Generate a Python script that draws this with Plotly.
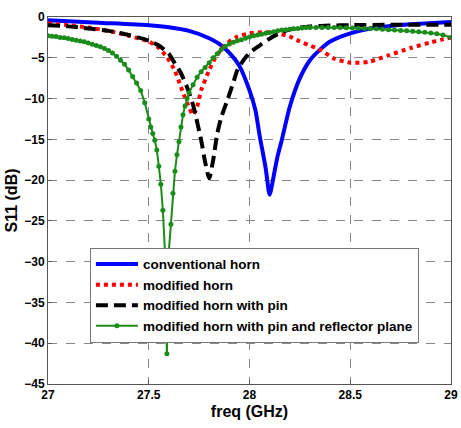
import plotly.graph_objects as go

# conventional horn
blue_f = [27.0, 27.25, 27.5, 27.6, 27.7, 27.8, 27.85, 27.9, 27.95, 28.0, 28.03, 28.05, 28.08, 28.1,
          28.12, 28.14, 28.16, 28.2, 28.25, 28.3, 28.35, 28.4, 28.5, 28.6, 28.7, 28.8, 29.0]
blue_s = [-0.4, -0.7, -1.0, -1.25, -1.7, -2.6, -3.3, -4.4, -6.0, -9.0, -11.5, -14.5, -18.5, -21.8,
          -19.5, -17.0, -15.1, -11.0, -7.5, -5.3, -4.0, -3.0, -2.0, -1.4, -1.1, -0.9, -0.6]

# modified horn
red_f = [27.0, 27.1, 27.2, 27.3, 27.4, 27.5, 27.55, 27.59, 27.63, 27.66, 27.69, 27.72, 27.74, 27.76,
         27.8, 27.83, 27.86, 27.9, 27.94, 28.0, 28.07, 28.14, 28.2, 28.25, 28.29, 28.35, 28.42, 28.5,
         28.59, 28.69, 28.8, 28.9, 28.95, 29.0]
red_s = [-0.8, -1.0, -1.3, -1.7, -2.3, -3.0, -3.8, -4.9, -6.6, -8.6, -10.5, -12.0, -11.0, -9.0,
         -6.5, -5.0, -4.0, -3.0, -2.4, -2.0, -1.85, -2.0, -2.4, -3.0, -3.4, -4.0, -5.1, -5.6,
         -5.5, -4.7, -3.8, -3.1, -2.8, -2.5]

# modified horn with pin
black_f = [27.0, 27.1, 27.2, 27.3, 27.4, 27.5, 27.55, 27.6, 27.62, 27.66, 27.69, 27.72, 27.76, 27.78,
           27.8, 27.82, 27.84, 27.86, 27.89, 27.92, 27.94, 27.97, 28.0, 28.05, 28.09, 28.14, 28.19,
           28.25, 28.3, 28.4, 28.5, 28.7, 29.0]
black_s = [-1.0, -1.15, -1.4, -1.7, -2.2, -2.9, -3.5, -4.5, -5.3, -6.9, -8.6, -10.8, -15.1, -17.8,
           -19.8, -17.5, -14.3, -12.3, -10.2, -8.0, -6.5, -5.3, -4.4, -3.5, -2.8, -2.1, -1.6,
           -1.3, -1.15, -1.05, -1.0, -0.95, -0.95]

# modified horn with pin and reflector plane
green_f = [27.0, 27.02, 27.04, 27.06, 27.08, 27.1, 27.12, 27.14, 27.16, 27.18, 27.2, 27.22, 27.24,
           27.26, 27.28, 27.3, 27.32, 27.34, 27.36, 27.38, 27.4, 27.42, 27.44, 27.46, 27.48, 27.5,
           27.51, 27.52, 27.53, 27.54, 27.55, 27.56, 27.57, 27.58, 27.59, 27.6, 27.61, 27.62, 27.63,
           27.64, 27.65, 27.66, 27.67, 27.68, 27.69, 27.7, 27.72, 27.74, 27.76, 27.78, 27.8, 27.82,
           27.84, 27.86, 27.88, 27.9, 27.92, 27.94, 27.96, 27.98, 28.0, 28.02, 28.04, 28.06, 28.08,
           28.1, 28.12, 28.14, 28.16, 28.18, 28.2, 28.22, 28.24, 28.26, 28.28, 28.3, 28.33, 28.36,
           28.39, 28.42, 28.45, 28.48, 28.51, 28.54, 28.57, 28.6, 28.63, 28.66, 28.69, 28.72, 28.75,
           28.78, 28.81, 28.84, 28.87, 28.9, 28.93, 28.96, 29.0]
green_s = [-2.3, -2.35, -2.4, -2.5, -2.55, -2.65, -2.75, -2.85, -2.95, -3.05, -3.2, -3.35, -3.5,
           -3.65, -3.85, -4.1, -4.4, -4.8, -5.3, -5.8, -6.5, -7.3, -8.1, -9.0, -10.5, -12.5,
           -13.5, -14.3, -15.1, -16.3, -18.3, -20.5, -23.7, -28.6, -41.3, -28.6, -25.4, -21.6, -18.9,
           -16.9, -15.3, -13.5, -12.0, -10.9, -10.0, -9.3, -8.3, -7.4, -6.7, -6.2, -5.6, -5.0,
           -4.5, -4.0, -3.6, -3.3, -3.1, -2.9, -2.8, -2.6, -2.45, -2.3, -2.2, -2.1, -2.0,
           -1.9, -1.8, -1.7, -1.6, -1.55, -1.5, -1.45, -1.4, -1.35, -1.3, -1.3, -1.3, -1.3,
           -1.3, -1.3, -1.3, -1.32, -1.35, -1.38, -1.4, -1.42, -1.45, -1.5, -1.55, -1.6, -1.65,
           -1.7, -1.75, -1.8, -1.87, -1.95, -2.05, -2.2, -2.5]

x_ticks = [27, 27.5, 28, 28.5, 29]
x_tick_labels = ["27", "27.5", "28", "28.5", "29"]
y_ticks = [0, -5, -10, -15, -20, -25, -30, -35, -40, -45]

FONT = "Liberation Sans, Arial, sans-serif"

fig = go.Figure()
fig.add_trace(go.Scatter(x=blue_f, y=blue_s, mode="lines", name="conventional horn",
                         line=dict(color="#0000ff", width=4, shape="spline", smoothing=0.6)))
fig.add_trace(go.Scatter(x=red_f, y=red_s, mode="lines", name="modified horn",
                         line=dict(color="#ff0000", width=4, dash="4px,4px", shape="spline", smoothing=0.6)))
fig.add_trace(go.Scatter(x=black_f, y=black_s, mode="lines", name="modified horn with pin",
                         line=dict(color="#000000", width=4, dash="12px,6px", shape="spline", smoothing=0.6)))
fig.add_trace(go.Scatter(x=green_f, y=green_s, mode="lines+markers",
                         name="modified horn with pin and reflector plane",
                         line=dict(color="#1a8c1a", width=2),
                         marker=dict(color="#1a8c1a", size=5)))

axis_common = dict(
    showline=True, linecolor="#555555", linewidth=1, mirror=True,
    ticks="inside", ticklen=4, tickcolor="#555555",
    showgrid=True, gridcolor="#888888", griddash="dash", gridwidth=1,
    zeroline=False, automargin=False,
    tickfont=dict(family=FONT, size=12, color="black", weight="bold"),
)

fig.update_xaxes(range=[27, 29], tickvals=x_ticks, ticktext=x_tick_labels,
                 title=dict(text="freq (GHz)", font=dict(family=FONT, size=16, color="black", weight="bold"),
                            standoff=4),
                 **axis_common)
fig.update_yaxes(range=[-45, 0], tickvals=y_ticks,
                 title=dict(text="S11 (dB)", font=dict(family=FONT, size=16, color="black", weight="bold"),
                            standoff=2),
                 **axis_common)

fig.update_layout(
    width=461, height=428,
    margin=dict(l=48, r=10, t=17, b=44),
    paper_bgcolor="white", plot_bgcolor="white",
    legend=dict(x=0.104, y=0.371, xanchor="left", yanchor="top",
                bgcolor="white", bordercolor="#777777", borderwidth=1,
                font=dict(family=FONT, size=13.5, color="black", weight="bold"),
                tracegroupgap=0, itemwidth=42),
    showlegend=True,
)

fig.write_html("out.html")
